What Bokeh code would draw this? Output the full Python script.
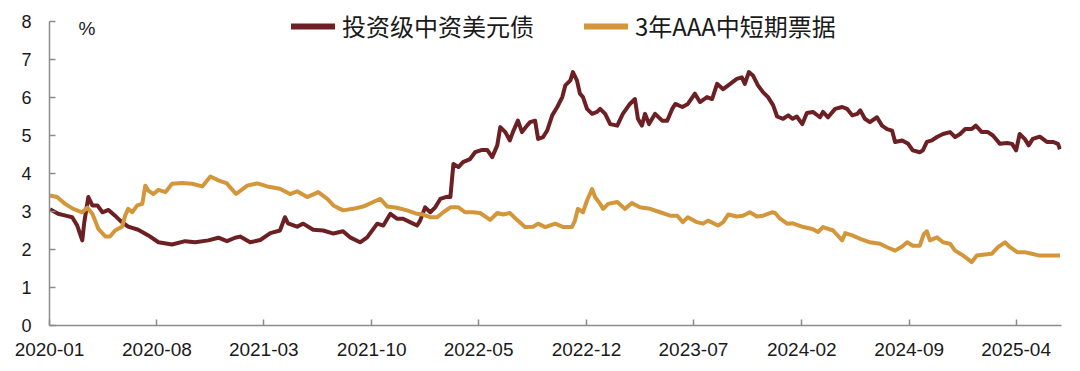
from datetime import datetime
import pandas as pd
from bokeh.plotting import figure
from bokeh.models import (Range1d, FixedTicker, DatetimeTickFormatter, Legend,
                          LegendItem, Label)
from bokeh.embed import file_html
from bokeh.resources import INLINE

# ---------------- data ----------------
usd_name = "投资级中资美元债"
usd_dates = [
    "2020-01-02", "2020-01-18", "2020-02-02", "2020-02-15", "2020-02-25", "2020-03-06",
    "2020-03-10", "2020-03-18", "2020-03-26", "2020-04-05", "2020-04-15", "2020-04-27",
    "2020-05-10", "2020-05-20", "2020-06-05", "2020-06-25", "2020-07-15", "2020-08-04",
    "2020-08-31", "2020-09-26", "2020-10-16", "2020-11-11", "2020-12-01", "2020-12-18",
    "2021-01-03", "2021-01-13", "2021-02-02", "2021-02-22", "2021-03-14", "2021-04-02",
    "2021-04-12", "2021-04-18", "2021-05-06", "2021-05-18", "2021-06-07", "2021-06-27",
    "2021-07-17", "2021-08-05", "2021-08-19", "2021-09-08", "2021-09-22", "2021-10-12",
    "2021-10-24", "2021-11-07", "2021-11-20", "2021-12-02", "2021-12-16", "2021-12-30",
    "2022-01-05", "2022-01-15", "2022-01-25", "2022-02-04", "2022-02-14", "2022-02-28",
    "2022-03-06", "2022-03-12", "2022-03-22", "2022-03-31", "2022-04-14", "2022-04-24",
    "2022-05-08", "2022-05-18", "2022-05-28", "2022-06-07", "2022-06-13", "2022-06-23",
    "2022-07-02", "2022-07-08", "2022-07-18", "2022-07-26", "2022-08-05", "2022-08-11",
    "2022-08-21", "2022-08-27", "2022-09-06", "2022-09-14", "2022-09-24", "2022-10-04",
    "2022-10-14", "2022-10-20", "2022-10-30", "2022-11-04", "2022-11-12", "2022-11-18",
    "2022-11-24", "2022-12-02", "2022-12-12", "2022-12-22", "2022-12-28", "2023-01-07",
    "2023-01-17", "2023-01-31", "2023-02-11", "2023-02-25", "2023-03-07", "2023-03-13",
    "2023-03-21", "2023-03-27", "2023-04-04", "2023-04-16", "2023-04-30", "2023-05-10",
    "2023-05-20", "2023-05-26", "2023-06-09", "2023-06-20", "2023-07-04", "2023-07-14",
    "2023-07-28", "2023-08-07", "2023-08-17", "2023-08-29", "2023-09-12", "2023-09-25",
    "2023-10-05", "2023-10-11", "2023-10-19", "2023-10-27", "2023-11-06", "2023-11-16",
    "2023-11-26", "2023-12-06", "2023-12-14", "2023-12-26", "2024-01-05", "2024-01-14",
    "2024-01-22", "2024-02-02", "2024-02-11", "2024-02-23", "2024-03-08", "2024-03-14",
    "2024-03-24", "2024-04-07", "2024-04-21", "2024-05-01", "2024-05-11", "2024-05-21",
    "2024-05-27", "2024-06-05", "2024-06-15", "2024-06-29", "2024-07-09", "2024-07-19",
    "2024-07-29", "2024-08-04", "2024-08-18", "2024-08-30", "2024-09-08", "2024-09-22",
    "2024-09-28", "2024-10-06", "2024-10-16", "2024-10-26", "2024-11-07", "2024-11-21",
    "2024-12-01", "2024-12-11", "2024-12-21", "2025-01-03", "2025-01-11", "2025-01-23",
    "2025-02-04", "2025-02-14", "2025-02-28", "2025-03-14", "2025-03-24", "2025-04-01",
    "2025-04-08", "2025-04-18", "2025-04-26", "2025-05-04", "2025-05-18", "2025-06-01",
    "2025-06-13", "2025-06-23", "2025-06-27",
]
usd_yield = [
    3.06, 2.94, 2.89, 2.85, 2.63, 2.24,
    2.72, 3.38, 3.16, 3.16, 2.98, 3.04,
    2.89, 2.76, 2.60, 2.52, 2.37, 2.19,
    2.13, 2.22, 2.19, 2.24, 2.31, 2.22,
    2.31, 2.34, 2.19, 2.25, 2.43, 2.50,
    2.85, 2.69, 2.60, 2.68, 2.52, 2.50,
    2.42, 2.48, 2.32, 2.19, 2.32, 2.68,
    2.63, 2.94, 2.81, 2.81, 2.72, 2.63,
    2.76, 3.11, 2.98, 3.11, 3.33, 3.39,
    3.38, 4.25, 4.17, 4.30, 4.38, 4.56,
    4.62, 4.62, 4.43, 4.74, 5.22, 5.09,
    4.87, 5.09, 5.39, 5.09, 5.26, 5.35,
    5.39, 4.91, 4.96, 5.13, 5.53, 5.75,
    6.01, 6.32, 6.45, 6.67, 6.45, 6.10,
    6.01, 5.70, 5.57, 5.62, 5.70, 5.57,
    5.30, 5.26, 5.57, 5.83, 5.96, 5.44,
    5.26, 5.57, 5.30, 5.57, 5.39, 5.39,
    5.70, 5.83, 5.75, 5.83, 6.10, 5.88,
    6.01, 5.96, 6.36, 6.22, 6.36, 6.49,
    6.53, 6.36, 6.67, 6.58, 6.32, 6.14,
    6.01, 5.80, 5.50, 5.44, 5.53, 5.44,
    5.50, 5.30, 5.59, 5.62, 5.48, 5.62,
    5.48, 5.70, 5.75, 5.70, 5.53, 5.57,
    5.66, 5.44, 5.35, 5.48, 5.26, 5.17,
    5.13, 4.83, 4.87, 4.78, 4.61, 4.56,
    4.61, 4.83, 4.87, 4.96, 5.04, 5.09,
    4.96, 5.04, 5.17, 5.17, 5.26, 5.09,
    5.09, 5.00, 4.78, 4.80, 4.78, 4.61,
    5.04, 4.91, 4.74, 4.91, 4.97, 4.83,
    4.83, 4.78, 4.64,
]

mtn_name = "3年AAA中短期票据"
mtn_dates = [
    "2020-01-02", "2020-01-16", "2020-02-01", "2020-02-17", "2020-03-06", "2020-03-16",
    "2020-03-26", "2020-04-07", "2020-04-21", "2020-04-30", "2020-05-10", "2020-05-24",
    "2020-05-30", "2020-06-05", "2020-06-13", "2020-06-23", "2020-07-03", "2020-07-09",
    "2020-07-15", "2020-07-25", "2020-08-04", "2020-08-18", "2020-08-31", "2020-09-20",
    "2020-10-10", "2020-10-30", "2020-11-15", "2020-12-01", "2020-12-18", "2020-12-24",
    "2021-01-05", "2021-01-27", "2021-02-16", "2021-03-08", "2021-04-02", "2021-04-22",
    "2021-05-06", "2021-05-26", "2021-06-17", "2021-07-05", "2021-07-17", "2021-08-05",
    "2021-08-25", "2021-09-14", "2021-10-04", "2021-10-18", "2021-11-01", "2021-11-20",
    "2021-12-10", "2021-12-30", "2022-01-11", "2022-01-25", "2022-02-08", "2022-02-20",
    "2022-03-06", "2022-03-22", "2022-04-04", "2022-04-20", "2022-05-04", "2022-05-24",
    "2022-06-07", "2022-06-19", "2022-07-02", "2022-07-16", "2022-08-01", "2022-08-17",
    "2022-08-27", "2022-09-10", "2022-09-30", "2022-10-16", "2022-11-02", "2022-11-08",
    "2022-11-14", "2022-11-24", "2022-12-02", "2022-12-12", "2022-12-18", "2022-12-28",
    "2023-01-03", "2023-01-13", "2023-01-31", "2023-02-15", "2023-03-01", "2023-03-17",
    "2023-04-06", "2023-04-26", "2023-05-16", "2023-05-30", "2023-06-10", "2023-06-20",
    "2023-07-08", "2023-07-20", "2023-07-30", "2023-08-19", "2023-08-29", "2023-09-08",
    "2023-09-25", "2023-10-07", "2023-10-21", "2023-11-04", "2023-11-16", "2023-12-04",
    "2023-12-10", "2023-12-20", "2024-01-03", "2024-01-14", "2024-02-04", "2024-02-22",
    "2024-03-04", "2024-03-14", "2024-04-03", "2024-04-21", "2024-04-27", "2024-05-11",
    "2024-05-27", "2024-06-15", "2024-07-05", "2024-07-19", "2024-08-04", "2024-08-18",
    "2024-08-28", "2024-09-08", "2024-09-22", "2024-09-30", "2024-10-06", "2024-10-12",
    "2024-10-26", "2024-11-07", "2024-11-21", "2024-12-01", "2024-12-17", "2025-01-03",
    "2025-01-13", "2025-01-29", "2025-02-12", "2025-02-24", "2025-03-10", "2025-03-20",
    "2025-04-03", "2025-04-18", "2025-05-02", "2025-05-18", "2025-06-07", "2025-06-27",
]
mtn_yield = [
    3.42, 3.38, 3.20, 3.07, 2.98, 3.10,
    2.94, 2.54, 2.34, 2.34, 2.50, 2.60,
    2.89, 3.07, 2.98, 3.16, 3.20, 3.68,
    3.55, 3.46, 3.57, 3.51, 3.73, 3.75,
    3.73, 3.66, 3.92, 3.82, 3.74, 3.64,
    3.46, 3.68, 3.74, 3.66, 3.60, 3.46,
    3.53, 3.38, 3.51, 3.33, 3.16, 3.03,
    3.07, 3.13, 3.25, 3.33, 3.13, 3.10,
    3.03, 2.94, 2.92, 2.85, 2.85, 2.98,
    3.11, 3.11, 2.98, 2.98, 2.96, 2.78,
    2.96, 2.92, 2.96, 2.78, 2.59, 2.60,
    2.68, 2.59, 2.68, 2.59, 2.59, 2.76,
    3.07, 2.98, 3.29, 3.59, 3.38, 3.20,
    3.07, 3.20, 3.25, 3.07, 3.22, 3.11,
    3.07, 2.98, 2.89, 2.89, 2.72, 2.85,
    2.72, 2.68, 2.76, 2.63, 2.72, 2.92,
    2.87, 2.89, 2.98, 2.87, 2.89, 2.98,
    2.96, 2.81, 2.68, 2.69, 2.59, 2.54,
    2.46, 2.59, 2.50, 2.24, 2.43, 2.37,
    2.28, 2.19, 2.15, 2.06, 1.97, 2.08,
    2.19, 2.10, 2.10, 2.41, 2.48, 2.24,
    2.32, 2.19, 2.15, 1.97, 1.84, 1.67,
    1.84, 1.87, 1.89, 2.06, 2.19, 2.06,
    1.93, 1.93, 1.89, 1.84, 1.84, 1.84,
]

x_tick_months = ["2020-01", "2020-08", "2021-03", "2021-10", "2022-05", "2022-12",
                 "2023-07", "2024-02", "2024-09", "2025-04"]
y_ticks = [0, 1, 2, 3, 4, 5, 6, 7, 8]
y_min, y_max = 0, 8
x_start, x_end = "2020-01-01", "2025-06-30"
unit_label = "%"

# ---------------- style / layout ----------------
MAROON = "#6D2024"
GOLD = "#D3963A"
AXIS = "#8c8c8c"
TEXT = "#1a1a1a"

W, H = 1080, 371
BORDER_L, BORDER_R, BORDER_B = 49, 19, 46
TOP_GAP = 21                      # pixels between frame top and the y=8 level
frame_h = H - BORDER_B
y_top = y_max * frame_h / (frame_h - TOP_GAP)   # extend range so legend is not clipped

p = figure(width=W, height=H, x_axis_type="datetime",
           output_backend="svg", toolbar_location=None,
           x_range=Range1d(datetime.fromisoformat(x_start), datetime.fromisoformat(x_end)),
           y_range=Range1d(y_min, y_top),
           min_border_left=BORDER_L, min_border_right=BORDER_R,
           min_border_top=0, min_border_bottom=BORDER_B)
p.outline_line_color = None
p.xgrid.visible = False
p.ygrid.visible = False
p.background_fill_color = "white"

r_usd = p.line(pd.to_datetime(usd_dates), usd_yield, line_color=MAROON, line_width=4,
               line_join="round")
r_mtn = p.line(pd.to_datetime(mtn_dates), mtn_yield, line_color=GOLD, line_width=4,
               line_join="round")

tick_ms = [pd.Timestamp(m + "-01").value // 10**6 for m in x_tick_months]
p.xaxis.ticker = FixedTicker(ticks=tick_ms)
fmt = "%Y-%m"
p.xaxis.formatter = DatetimeTickFormatter(
    milliseconds=fmt, seconds=fmt, minsec=fmt, minutes=fmt, hourmin=fmt,
    hours=fmt, days=fmt, months=fmt, years=fmt)
p.yaxis.ticker = FixedTicker(ticks=y_ticks)
p.yaxis.bounds = (y_min, y_max)

for ax in (p.xaxis[0], p.yaxis[0]):
    ax.axis_line_color = AXIS
    ax.axis_line_width = 1.5
    ax.major_tick_line_color = AXIS
    ax.major_tick_line_width = 1.5
    ax.major_tick_in = 6
    ax.major_tick_out = 0
    ax.minor_tick_line_color = None
    ax.major_label_text_font = "Liberation Sans"
    ax.major_label_text_font_size = "18px"
    ax.major_label_text_color = TEXT
p.xaxis.major_label_standoff = 17
p.yaxis.major_label_standoff = 18
p.xaxis.major_label_text_font_size = "19px"

# legend swatches: thicker lines than the series; one NaN point so nothing is drawn in the plot
nan = float("nan")
first_day = [datetime.fromisoformat(x_start)]
leg_usd = p.line(first_day, [nan], line_color=MAROON, line_width=6, line_cap="round")
leg_mtn = p.line(first_day, [nan], line_color=GOLD, line_width=6, line_cap="round")
legend = Legend(
    items=[LegendItem(label=usd_name, renderers=[leg_usd]),
           LegendItem(label=mtn_name, renderers=[leg_mtn])],
    orientation="horizontal", location=(242, 282),
    glyph_width=44, glyph_height=20, label_standoff=7, spacing=50,
    padding=0, margin=0, border_line_color=None, background_fill_alpha=0,
    label_text_font="Noto Sans CJK SC", label_text_font_size="24px",
    label_text_color=TEXT)
p.add_layout(legend)

p.add_layout(Label(x=29, y=297, x_units="screen", y_units="screen", text=unit_label,
                   text_font="Liberation Sans", text_font_size="19px",
                   text_baseline="middle", text_color=TEXT))

open("out.html", "w").write(file_html(p, INLINE))
